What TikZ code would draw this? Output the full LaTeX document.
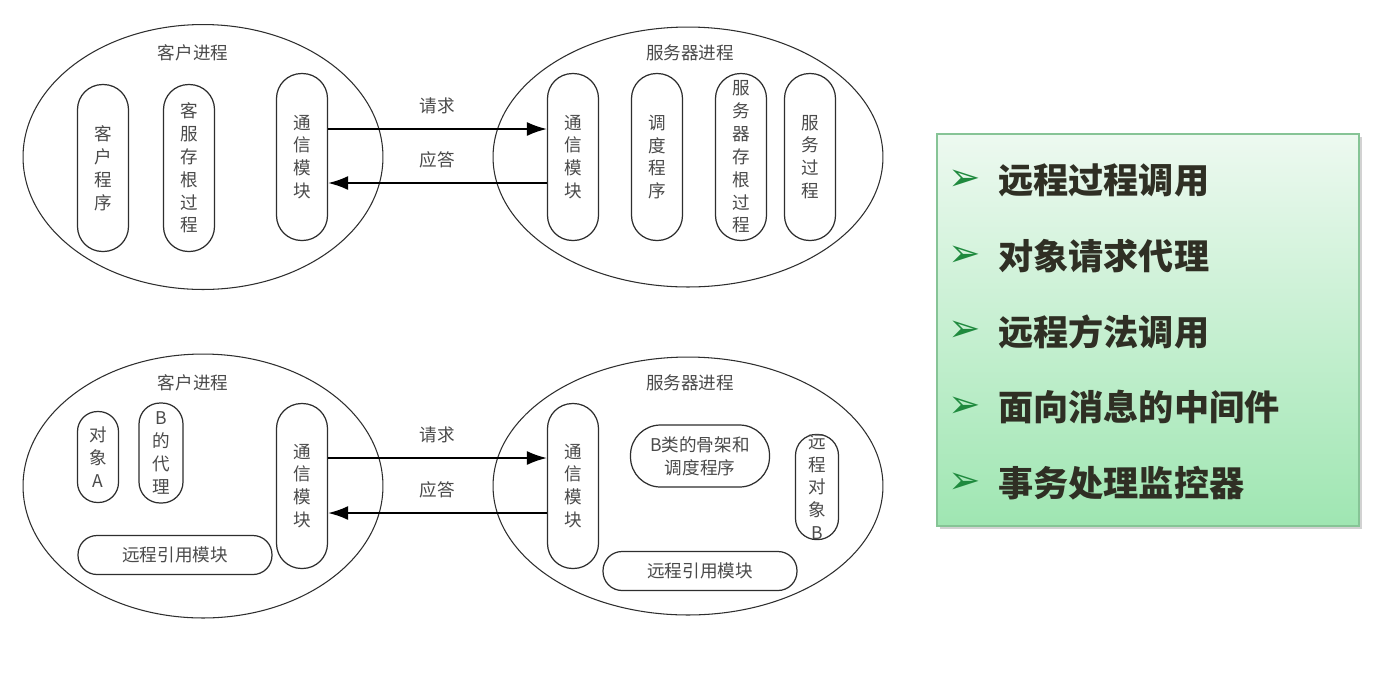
\documentclass[tikz,border=0pt]{standalone}
\usepackage{fontspec}
\usepackage{tikz}
\usetikzlibrary{arrows.meta,positioning,shapes.geometric,calc,shadows}
\newfontfamily\cjk{Noto Sans CJK SC}
\newfontfamily\symfont{DejaVu Sans}
\definecolor{linegray}{HTML}{2E2E2E}
\definecolor{textgray}{HTML}{4A4A4A}
\definecolor{listtop}{HTML}{EDF9F0}
\definecolor{listbottom}{HTML}{9FE6B2}
\definecolor{listframe}{HTML}{86C496}
\definecolor{bulletgreen}{HTML}{1F8A3E}
\definecolor{listtext}{HTML}{2F2F24}
\tikzset{
  proc/.style={
    draw=linegray,
    ellipse,
    line width=0.6pt,
    inner sep=0pt
  },
  pill/.style={
    draw=linegray,
    rounded corners=0.5cm,
    line width=0.7pt,
    align=center,
    inner sep=0pt,
    minimum width=1.02cm,
    minimum height=3.34cm,
    text=textgray,
    font=\cjk\fontsize{10}{13}\selectfont
  },
  bar/.style={
    pill,
    rounded corners=0.38cm,
    minimum width=3.88cm,
    minimum height=0.78cm
  },
  title/.style={
    text=textgray,
    font=\cjk\fontsize{10}{13}\selectfont
  },
  msg/.style={
    text=textgray,
    inner sep=1pt,
    font=\cjk\fontsize{10}{13}\selectfont
  },
  flowarrow/.style={
    -{Latex[length=4mm,width=2.8mm]},
    line width=1.1pt,
    draw=black
  },
  listbox/.style={
    draw=listframe,
    line width=0.8pt,
    top color=listtop,
    bottom color=listbottom,
    drop shadow={opacity=0.35,shadow xshift=0.06cm,shadow yshift=-0.06cm},
    minimum width=8.44cm,
    minimum height=7.84cm,
    inner sep=0pt
  },
  listitem/.style={
    anchor=west,
    inner sep=0pt,
    text=listtext,
    font=\cjk\bfseries\fontsize{20}{24}\selectfont
  },
  bullet/.style={
    inner sep=0pt,
    text=bulletgreen,
    font=\symfont\fontsize{22}{26}\selectfont
  }
}
\begin{document}
\begin{tikzpicture}[x=0.02cm,y=-0.02cm]
  \useasboundingbox (0,0) rectangle (1373,681);
  \fill[white] (0,0) rectangle (1373,681);

  \node[proc, minimum width=7.2cm, minimum height=5.3cm] (client1) at (203,157) {};
  \node[proc, minimum width=7.8cm, minimum height=5.2cm] (server1) at (688,157) {};
  \node[title] (ctitle1) at (193,53) {客户进程};
  \node[title] (stitle1) at (690,53) {服务器进程};
  \node[pill] (cprog) at (103,168) {客\\户\\程\\序};
  \node[pill] (cstub) at (189,168) {客\\服\\存\\根\\过\\程};
  \node[pill] (ccomm1) at (302,157) {通\\信\\模\\块};
  \node[pill] (scomm1) at (573,157) {通\\信\\模\\块};
  \node[pill] (sched) at (657,157) {调\\度\\程\\序};
  \node[pill] (sstub) at (741,157) {服\\务\\器\\存\\根\\过\\程};
  \node[pill] (sproc) at (810,157) {服\\务\\过\\程};
  \draw[flowarrow] ($(ccomm1.east)+(0,-28)$) -- ($(scomm1.west)+(0,-28)$)
    node[msg, midway, above=7pt] (req1) {请求};
  \draw[flowarrow] ($(scomm1.west)+(0,26)$) -- ($(ccomm1.east)+(0,26)$)
    node[msg, midway, above=7pt] (ans1) {应答};

  \node[proc, minimum width=7.2cm, minimum height=5.28cm] (client2) at (203,486) {};
  \node[proc, minimum width=7.8cm, minimum height=5.16cm] (server2) at (688,486) {};
  \node[title] (ctitle2) at (193,383) {客户进程};
  \node[title] (stitle2) at (690,383) {服务器进程};
  \node[pill, rounded corners=0.4cm, minimum width=0.82cm, minimum height=1.82cm] (objA) at (98,457) {对\\象\\A};
  \node[pill, rounded corners=0.42cm, minimum width=0.88cm, minimum height=2cm] (proxyB) at (161,453) {B\\的\\代\\理};
  \node[pill, minimum height=3.3cm] (ccomm2) at (302,486) {通\\信\\模\\块};
  \node[bar] (cref) at (175,555) {远程引用模块};
  \node[pill, minimum height=3.3cm] (scomm2) at (573,486) {通\\信\\模\\块};
  \node[pill, rounded corners=0.6cm, minimum width=2.78cm, minimum height=1.24cm] (skel) at (700,456) {B类的骨架和\\调度程序};
  \node[pill, rounded corners=0.42cm, minimum width=0.86cm, minimum height=2.1cm] (objB) at (817,487) {远\\程\\对\\象\\B};
  \node[bar] (sref) at (700,571) {远程引用模块};
  \draw[flowarrow] ($(ccomm2.east)+(0,-28)$) -- ($(scomm2.west)+(0,-28)$)
    node[msg, midway, above=7pt] (req2) {请求};
  \draw[flowarrow] ($(scomm2.west)+(0,27)$) -- ($(ccomm2.east)+(0,27)$)
    node[msg, midway, above=7pt] (ans2) {应答};

  \node[listbox] (list) at (1148,330) {};
  \foreach \txt [count=\i] in {远程过程调用,对象请求代理,远程方法调用,面向消息的中间件,事务处理监控器}{
    \node[bullet] (mark\i) at (965,{180+75.8*(\i-1)}) {➢};
    \node[listitem] (item\i) at (998,{180+75.8*(\i-1)}) {\txt};
  }
\end{tikzpicture}
\end{document}
